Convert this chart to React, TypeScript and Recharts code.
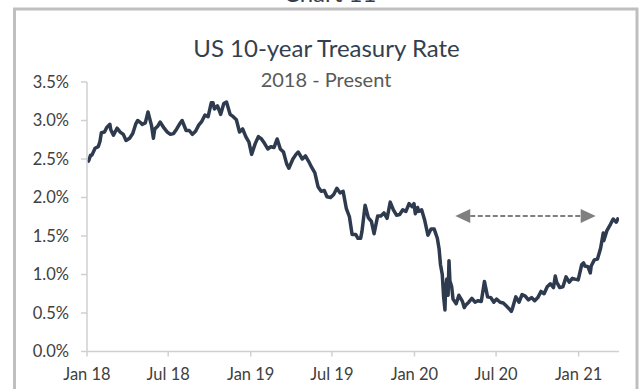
import { Line, LineChart, ReferenceLine, XAxis, YAxis } from "recharts";

// Weekly-ish closes of the 10-year Treasury yield (%), with a few extra days around sharp moves
const WEEKLY_RATES: [string, number][] = [
  ["2018-01-02", 2.46], ["2018-01-05", 2.48], ["2018-01-09", 2.55], ["2018-01-12", 2.55],
  ["2018-01-19", 2.64], ["2018-01-26", 2.66], ["2018-01-30", 2.73], ["2018-02-02", 2.84],
  ["2018-02-09", 2.85], ["2018-02-14", 2.91], ["2018-02-21", 2.95], ["2018-02-23", 2.88],
  ["2018-03-01", 2.81], ["2018-03-09", 2.9], ["2018-03-16", 2.85], ["2018-03-23", 2.82],
  ["2018-03-29", 2.74], ["2018-04-06", 2.77], ["2018-04-13", 2.83], ["2018-04-20", 2.96],
  ["2018-04-24", 3.0], ["2018-05-01", 2.97], ["2018-05-04", 2.95], ["2018-05-11", 2.97],
  ["2018-05-17", 3.11], ["2018-05-25", 2.93], ["2018-05-29", 2.77], ["2018-06-01", 2.89],
  ["2018-06-08", 2.93], ["2018-06-13", 2.98], ["2018-06-22", 2.9], ["2018-06-29", 2.85],
  ["2018-07-06", 2.82], ["2018-07-13", 2.83], ["2018-07-20", 2.89], ["2018-07-27", 2.96],
  ["2018-08-01", 3.0], ["2018-08-10", 2.87], ["2018-08-17", 2.87], ["2018-08-24", 2.82],
  ["2018-08-31", 2.86], ["2018-09-07", 2.94], ["2018-09-14", 2.99], ["2018-09-21", 3.07],
  ["2018-09-28", 3.05], ["2018-10-05", 3.23], ["2018-10-09", 3.23], ["2018-10-12", 3.15],
  ["2018-10-19", 3.19], ["2018-10-26", 3.08], ["2018-11-02", 3.22], ["2018-11-08", 3.24],
  ["2018-11-16", 3.08], ["2018-11-23", 3.05], ["2018-11-30", 3.01], ["2018-12-07", 2.85],
  ["2018-12-14", 2.89], ["2018-12-21", 2.79], ["2018-12-28", 2.72],
  ["2019-01-03", 2.56], ["2019-01-11", 2.7], ["2019-01-18", 2.79], ["2019-01-25", 2.76],
  ["2019-02-01", 2.7], ["2019-02-08", 2.63], ["2019-02-15", 2.66], ["2019-02-22", 2.65],
  ["2019-03-01", 2.76], ["2019-03-08", 2.63], ["2019-03-15", 2.59], ["2019-03-22", 2.44],
  ["2019-03-27", 2.38], ["2019-04-05", 2.5], ["2019-04-12", 2.56], ["2019-04-17", 2.59],
  ["2019-04-26", 2.5], ["2019-05-03", 2.54], ["2019-05-10", 2.47], ["2019-05-17", 2.39],
  ["2019-05-24", 2.32], ["2019-05-31", 2.14], ["2019-06-07", 2.08], ["2019-06-14", 2.09],
  ["2019-06-20", 2.01], ["2019-06-28", 2.0], ["2019-07-05", 2.04], ["2019-07-12", 2.12],
  ["2019-07-19", 2.06], ["2019-07-26", 2.08], ["2019-08-02", 1.86], ["2019-08-09", 1.75],
  ["2019-08-15", 1.52], ["2019-08-23", 1.52], ["2019-08-28", 1.47], ["2019-09-03", 1.47],
  ["2019-09-06", 1.56], ["2019-09-13", 1.9], ["2019-09-20", 1.74], ["2019-09-27", 1.69],
  ["2019-10-03", 1.53], ["2019-10-11", 1.76], ["2019-10-18", 1.76], ["2019-10-25", 1.8],
  ["2019-11-01", 1.73], ["2019-11-08", 1.94], ["2019-11-15", 1.84], ["2019-11-22", 1.77],
  ["2019-11-29", 1.78], ["2019-12-06", 1.84], ["2019-12-13", 1.82], ["2019-12-20", 1.92],
  ["2019-12-27", 1.88], ["2019-12-31", 1.92],
  ["2020-01-03", 1.79], ["2020-01-08", 1.87], ["2020-01-10", 1.82], ["2020-01-17", 1.84],
  ["2020-01-24", 1.7], ["2020-01-31", 1.51], ["2020-02-07", 1.59], ["2020-02-14", 1.59],
  ["2020-02-21", 1.47], ["2020-02-25", 1.33], ["2020-02-28", 1.13], ["2020-03-03", 1.0],
  ["2020-03-06", 0.71], ["2020-03-09", 0.54], ["2020-03-10", 0.76], ["2020-03-12", 0.88],
  ["2020-03-13", 0.94], ["2020-03-16", 0.73], ["2020-03-18", 1.18], ["2020-03-20", 0.92],
  ["2020-03-24", 0.84], ["2020-03-27", 0.68], ["2020-04-03", 0.62], ["2020-04-09", 0.73],
  ["2020-04-17", 0.65], ["2020-04-21", 0.57], ["2020-04-24", 0.6], ["2020-05-01", 0.64],
  ["2020-05-08", 0.69], ["2020-05-15", 0.64], ["2020-05-22", 0.66], ["2020-05-29", 0.65],
  ["2020-06-05", 0.91], ["2020-06-12", 0.71], ["2020-06-19", 0.7], ["2020-06-26", 0.64],
  ["2020-07-02", 0.68], ["2020-07-10", 0.64], ["2020-07-17", 0.63], ["2020-07-24", 0.59],
  ["2020-07-31", 0.55], ["2020-08-04", 0.52], ["2020-08-07", 0.57], ["2020-08-14", 0.71],
  ["2020-08-21", 0.64], ["2020-08-28", 0.74], ["2020-09-04", 0.72], ["2020-09-11", 0.67],
  ["2020-09-18", 0.7], ["2020-09-25", 0.66], ["2020-10-02", 0.7], ["2020-10-09", 0.78],
  ["2020-10-16", 0.75], ["2020-10-23", 0.84], ["2020-10-30", 0.88], ["2020-11-06", 0.83],
  ["2020-11-10", 0.98], ["2020-11-13", 0.9], ["2020-11-20", 0.83], ["2020-11-27", 0.84],
  ["2020-12-04", 0.97], ["2020-12-11", 0.9], ["2020-12-18", 0.95], ["2020-12-24", 0.94],
  ["2020-12-31", 0.93],
  ["2021-01-08", 1.13], ["2021-01-12", 1.15], ["2021-01-15", 1.11], ["2021-01-22", 1.1],
  ["2021-01-27", 1.02], ["2021-01-29", 1.11], ["2021-02-05", 1.19], ["2021-02-12", 1.2],
  ["2021-02-19", 1.34], ["2021-02-25", 1.54], ["2021-02-26", 1.44], ["2021-03-05", 1.57],
  ["2021-03-12", 1.64], ["2021-03-18", 1.71], ["2021-03-19", 1.72], ["2021-03-26", 1.68],
  ["2021-03-31", 1.74],
];

const TICK_DATES = ["2018-01-01", "2018-07-01", "2019-01-01", "2019-07-01", "2020-01-01", "2020-07-01", "2021-01-01"];
const TICK_LABELS = ["Jan 18", "Jul 18", "Jan 19", "Jul 19", "Jan 20", "Jul 20", "Jan 21"];
const RATE_TICKS = [0, 0.5, 1, 1.5, 2, 2.5, 3, 3.5];
const X_RANGE = ["2018-01-01", "2021-04-01"];

// the "range" arrow drawn over the post-crash period
const ARROW_DATES = ["2020-04-01", "2021-02-08"];
const ARROW_LEVEL = 1.76;

const FONT = "Lato, 'Open Sans', sans-serif";
const toTime = (d: string) => Date.parse(d + "T00:00:00Z");

const data = WEEKLY_RATES.map(([d, v]) => ({ t: toTime(d), rate: v }));
const tickTimes = TICK_DATES.map(toTime);

const DashedArrow = (props: any) => {
  const { x1, y1, x2, y2 } = props;
  const head = 15;
  const half = 7;
  const color = "#7f7f7f";
  return (
    <g>
      <line x1={x1 + head} y1={y1} x2={x2 - head} y2={y2} stroke={color} strokeWidth={2} strokeDasharray="5 2.5" />
      <polygon points={`${x1},${y1} ${x1 + head},${y1 - half} ${x1 + head},${y1 + half}`} fill={color} />
      <polygon points={`${x2},${y2} ${x2 - head},${y2 - half} ${x2 - head},${y2 + half}`} fill={color} />
    </g>
  );
};

export default function App() {
  const W = 639;
  const H = 389;
  return (
    <div style={{ position: "absolute", left: 0, top: 0, width: W, height: H, overflow: "hidden", background: "#fff" }}>
      <svg width={W} height={H} style={{ position: "absolute", left: 0, top: 0 }}>
        <text x={330} y={2} textAnchor="middle" fontFamily={FONT} fontSize={24} fill="#333f50">
          Chart 11
        </text>
        <rect x={14.5} y={9} width={622.5} height={400} fill="none" stroke="#bfbfbf" strokeWidth={3} />
        <text x={326.5} y={57} textAnchor="middle" fontFamily={FONT} fontSize={24} fill="#333f50">
          US 10-year Treasury Rate
        </text>
        <text x={326} y={86.5} textAnchor="middle" fontFamily={FONT} fontSize={20} fill="#595959">
          2018 - Present
        </text>
      </svg>
      <div style={{ position: "absolute", left: 0, top: 0 }}>
        <LineChart width={W} height={H} data={data} margin={{ top: 82, right: 20, bottom: 0, left: 0 }}>
          <XAxis
            type="number"
            dataKey="t"
            domain={X_RANGE.map(toTime)}
            ticks={tickTimes}
            tickFormatter={(t: number) => TICK_LABELS[tickTimes.indexOf(t)] ?? ""}
            height={37.5}
            tickSize={5}
            tickMargin={12}
            stroke="#d0d0d0"
            strokeWidth={1.5}
            tick={{ fill: "#404040", fontSize: 16.5, fontFamily: FONT }}
            allowDataOverflow
          />
          <YAxis
            type="number"
            domain={[0, 3.5]}
            ticks={RATE_TICKS}
            tickFormatter={(v: number) => `${v.toFixed(1)}%`}
            width={87}
            tickSize={6}
            tickMargin={12}
            stroke="#d0d0d0"
            strokeWidth={1.5}
            tick={{ fill: "#404040", fontSize: 16.5, fontFamily: FONT }}
          />
          <Line
            type="linear"
            dataKey="rate"
            stroke="#2e3b4e"
            strokeWidth={3.5}
            strokeLinejoin="round"
            dot={false}
            isAnimationActive={false}
          />
          <ReferenceLine
            segment={[
              { x: toTime(ARROW_DATES[0]), y: ARROW_LEVEL },
              { x: toTime(ARROW_DATES[1]), y: ARROW_LEVEL },
            ]}
            shape={DashedArrow}
            ifOverflow="visible"
          />
        </LineChart>
      </div>
    </div>
  );
}
